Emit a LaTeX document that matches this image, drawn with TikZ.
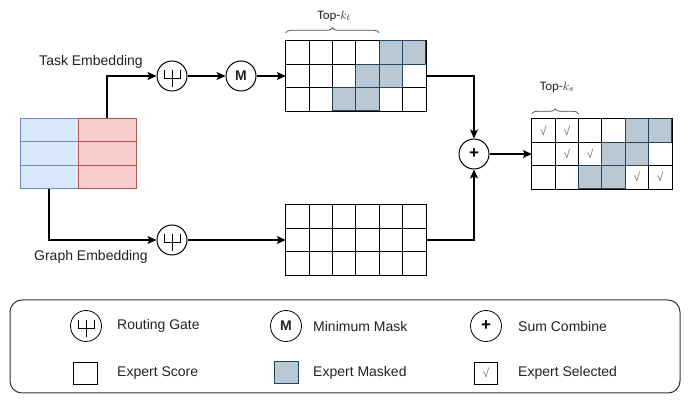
\documentclass[tikz,border=0pt]{standalone}
\usepackage{fontspec}
\setmainfont{Liberation Sans}
\newfontfamily\calib{Carlito}
\usetikzlibrary{arrows.meta,decorations.pathreplacing}
\definecolor{embblue}{HTML}{DAE8FC}
\definecolor{embblueline}{HTML}{6C8EBF}
\definecolor{embred}{HTML}{F8CECC}
\definecolor{embredline}{HTML}{B85450}
\definecolor{maskfill}{HTML}{BAC8D3}
\definecolor{maskline}{HTML}{23445D}
\definecolor{txt}{HTML}{222222}
\def\cs{23.333}
\tikzset{
  conn/.style={line width=1.1pt,-{Stealth[length=9pt,width=8pt,inset=2pt]}},
  gate/.style={circle,draw,line width=1pt,minimum size=30pt,inner sep=0pt,font=\fontsize{14}{14}\selectfont\bfseries,text=txt},
  gridbox/.style={minimum width=140pt,minimum height=70pt,inner sep=0pt},
  cellline/.style={line width=1.1pt},
  masked/.style={fill=maskfill,draw=maskline,line width=1pt},
  tick/.style={font=\fontsize{12}{12}\selectfont,text=black!55,inner sep=0pt},
  lbl/.style={font=\fontsize{14}{16}\selectfont,text=txt},
  toplbl/.style={font=\calib\fontsize{13}{15}\selectfont,text=txt},
  brc/.style={decorate,decoration={brace,amplitude=5pt},draw=black!70,line width=0.8pt},
  keytxt/.style={font=\fontsize{14}{16}\selectfont,text=txt,anchor=west,inner sep=0pt}
}
% routing gate symbol inside a circle node
\newcommand\routesym[1]{%
  \draw[line width=1pt] ([shift={(-8,-6)}]#1.center) -- ([shift={(-8,3)}]#1.center)
    -- ([shift={(8,3)}]#1.center) -- ([shift={(8,-6)}]#1.center);
  \draw[line width=1pt] ([shift={(0,-6)}]#1.center) -- ([shift={(0,11)}]#1.center);}
% cell lines of a 6x3 expert grid
\newcommand\gridlines[1]{%
  \foreach \c in {1,...,5}
    \draw[cellline] ([shift={(\c*\cs,0)}]#1.north west) -- ([shift={(\c*\cs,0)}]#1.south west);
  \foreach \r in {1,2}
    \draw[cellline] ([shift={(0,\r*\cs)}]#1.north west) -- ([shift={(0,\r*\cs)}]#1.north east);
  \draw[cellline] (#1.north west) rectangle (#1.south east);}
\begin{document}
\begin{tikzpicture}[x=1pt,y=-1pt]
\useasboundingbox (0,0) rectangle (694,403);
% embeddings
\node[gridbox,minimum width=58pt,fill=embblue,draw=embblueline,line width=1pt] (graphemb) at (49,154) {};
\node[gridbox,minimum width=58pt,fill=embred,draw=embredline,line width=1pt] (taskemb) at (107,154) {};
\foreach \r in {1,2} {
  \draw[embblueline,line width=1pt] ([shift={(0,\r*\cs)}]graphemb.north west) -- ([shift={(0,\r*\cs)}]graphemb.north east);
  \draw[embredline,line width=1pt] ([shift={(0,\r*\cs)}]taskemb.north west) -- ([shift={(0,\r*\cs)}]taskemb.north east);
}
\node[lbl] (tasklbl) at (91,62) {Task Embedding};
\node[lbl] (graphlbl) at (91,257) {Graph Embedding};
% gates
\node[gate] (gateT) at (172,76) {};  \routesym{gateT}
\node[gate] (mask) at (241,76) {M};
\node[gate] (gateG) at (172,240) {}; \routesym{gateG}
\node[gate,font=\fontsize{17}{17}\selectfont\bfseries,text=black] (plus) at (474,154) {+};
% expert grids
\node[gridbox] (topgrid) at (356,76) {};
\node[gridbox] (botgrid) at (356,240) {};
\node[gridbox] (outgrid) at (602,154) {};
\foreach \c/\r in {4/0,5/0,3/1,4/1,2/2,3/2} {
  \fill[maskfill] ([shift={(\c*\cs,\r*\cs)}]topgrid.north west) rectangle +(\cs,\cs);
  \fill[maskfill] ([shift={(\c*\cs,\r*\cs)}]outgrid.north west) rectangle +(\cs,\cs);
}
\gridlines{topgrid}
\gridlines{botgrid}
\gridlines{outgrid}
\foreach \c/\r in {4/0,5/0,3/1,4/1,2/2,3/2} {
  \draw[maskline,line width=1pt] ([shift={(\c*\cs,\r*\cs)}]topgrid.north west) rectangle +(\cs,\cs);
  \draw[maskline,line width=1pt] ([shift={(\c*\cs,\r*\cs)}]outgrid.north west) rectangle +(\cs,\cs);
}
\foreach \c/\r in {0/0,1/0,1/1,2/1,4/2,5/2}
  \node[tick] (chk-\c-\r) at ([shift={(\c*\cs+\cs/2,\r*\cs+\cs/2)}]outgrid.north west) {√};
% top-k braces
\draw[brc] ([shift={(0,-8)}]topgrid.north west) -- ([shift={(4*\cs,-8)}]topgrid.north west);
\node[toplbl] (ktlbl) at (334,16) {Top-$k_t$};
\draw[brc] ([shift={(0,-5)}]outgrid.north west) -- ([shift={(2*\cs,-5)}]outgrid.north west);
\node[toplbl] (kslbl) at (557,87) {Top-$k_s$};
% connectors
\draw[conn] (taskemb.north) |- (gateT);
\draw[conn] (gateT) -- (mask);
\draw[conn] (mask) -- (topgrid);
\draw[conn] (graphemb.south) |- (gateG);
\draw[conn] (gateG) -- (botgrid);
\draw[conn] (topgrid) -| (plus);
\draw[conn] (botgrid) -| (plus);
\draw[conn] (plus) -- (outgrid);
% legend
\draw[line width=1pt,draw=black!80,rounded corners=12pt] (10,300) rectangle (680,393);
\node[gate,line width=0.8pt,minimum size=31pt] (keygate) at (86,326) {}; \routesym{keygate}
\node[keytxt] (keygatetxt) at (117,326) {Routing Gate};
\node[gate,line width=0.8pt,minimum size=31pt] (keymask) at (286,326) {M};
\node[keytxt] (keymasktxt) at (313,326) {Minimum Mask};
\node[gate,line width=0.8pt,minimum size=31pt,font=\fontsize{17}{17}\selectfont\bfseries,text=black] (keyplus) at (486,326) {+};
\node[keytxt] (keyplustxt) at (518,326) {Sum Combine};
\node[draw,line width=0.8pt,minimum width=24pt,minimum height=22pt,inner sep=0pt] (keyscore) at (85,373) {};
\node[keytxt] (keyscoretxt) at (117,373) {Expert Score};
\node[masked,minimum width=24pt,minimum height=22pt,inner sep=0pt] (keymasked) at (286,373) {};
\node[keytxt] (keymaskedtxt) at (313,373) {Expert Masked};
\node[draw,line width=0.6pt,minimum width=23pt,minimum height=22pt,inner sep=0pt,tick] (keysel) at (486,373) {√};
\node[keytxt] (keyseltxt) at (518,373) {Expert Selected};
\end{tikzpicture}
\end{document}
